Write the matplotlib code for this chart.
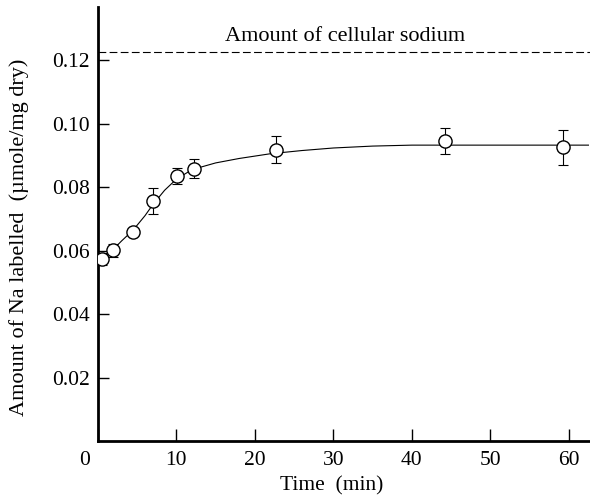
import matplotlib
matplotlib.use("Agg")
import matplotlib.pyplot as plt
import matplotlib.transforms as mtransforms

# measured points (time in min, Na labelled in umole/mg dry)
time_min = [0.5, 1.9, 4.5, 7.0, 10.1, 12.2, 22.7, 44.2, 59.2]
na_labelled = [0.0573, 0.0601, 0.0658, 0.0756, 0.0835, 0.0857, 0.0918, 0.0945, 0.0926]
na_err = [0.002, 0.002, 0.001, 0.004, 0.0025, 0.003, 0.0043, 0.0042, 0.0055]

# smooth curve
curve_t = [0, 1, 2, 3, 4.5, 6, 7, 8.5, 10, 12, 15, 18, 22, 26, 30, 35, 40, 62.5]
curve_na = [0.0565, 0.0585, 0.0605, 0.063, 0.0665, 0.071, 0.0745, 0.079, 0.0825,
            0.0855, 0.0876, 0.089, 0.0905, 0.0915, 0.0923, 0.0929, 0.0932, 0.0932]

cellular_na = 0.1225

xticks = [0, 10, 20, 30, 40, 50, 60]
yticks = [0.02, 0.04, 0.06, 0.08, 0.10, 0.12]

plt.rcParams['font.family'] = ['Liberation Serif', 'DejaVu Serif']
plt.rcParams['font.size'] = 15.5

fig = plt.figure(figsize=(5.9, 4.99), dpi=100)
ax = fig.add_axes([0.166, 0.116, 0.834, 0.870])

ax.plot(curve_t, curve_na, '-', color='black', lw=0.8, zorder=2)
ax.axhline(cellular_na, color='black', lw=0.8, ls=(0, (7, 3)), zorder=2)
ax.errorbar(time_min, na_labelled, yerr=na_err, fmt='none', ecolor='black',
            elinewidth=0.8, capsize=3.5, capthick=0.8, zorder=3)
ax.plot(time_min, na_labelled, 'o', ms=9.5, mfc='white', mec='black', mew=1.0,
        zorder=4)

ax.text(31.5, 0.1245, 'Amount of cellular sodium', ha='center', va='bottom',
        fontsize=16)

ax.set_xlim(0, 62.7)
ax.set_ylim(0, 0.1367)
ax.set_xticks(xticks)
ax.set_yticks(yticks)
ax.set_yticklabels(['%.2f' % v for v in yticks])

ax.spines['top'].set_visible(False)
ax.spines['right'].set_visible(False)
ax.spines['left'].set_linewidth(2)
ax.spines['bottom'].set_linewidth(2)
ax.tick_params(axis='x', direction='in', length=9, width=1, pad=7)
ax.tick_params(axis='y', direction='in', length=8, width=1, pad=6)

# the "0" label sits a bit left of the axis in the original
lbl0 = ax.get_xticklabels()[0]
lbl0.set_transform(lbl0.get_transform() +
                   mtransforms.ScaledTranslation(-13 / 100, 0, fig.dpi_scale_trans))

ax.set_xlabel('Time  (min)')
ax.xaxis.set_label_coords(0.475, -0.082)
ax.set_ylabel('Amount of Na labelled  (\u00b5mole/mg dry)', fontsize=16)
ax.yaxis.set_label_coords(-0.14, 0.47)

fig.savefig('out.png', dpi=100)
